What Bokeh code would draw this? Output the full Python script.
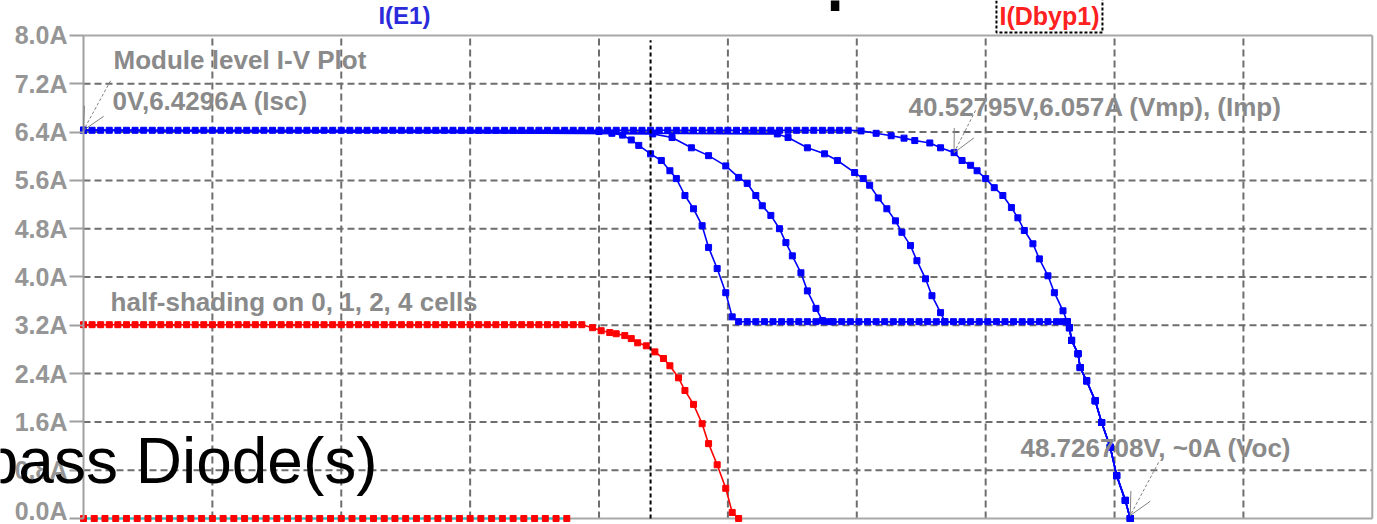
from bokeh.plotting import figure
from bokeh.models import Range1d, FixedTicker, Label, Arrow, OpenHead
from bokeh.embed import file_html
from bokeh.resources import INLINE

# ---------------- data ----------------
I_SC = 6.43      # short-circuit current (A)
I_BYP = 3.26     # plateau while bypass diode conducts (A)
I_RED = 3.21     # half-shaded current (A)

# plot window of the simulator (V, A)
V_MIN, V_MAX = 0.0, 60.0
I_MIN, I_MAX = 0.0, 8.0

# markers on the 6.43 A plateau (unshaded curve)
v_top = [0.0, 0.4, 0.8, 1.2, 1.6, 2.0, 2.4, 2.8, 3.2, 3.6, 4.0, 4.4, 4.8, 5.2, 5.6,
         6.0, 6.4, 6.8, 7.2, 7.6, 8.0, 8.4, 8.8, 9.2, 9.6, 10.0, 10.4, 10.8, 11.2,
         11.6, 12.0, 12.4, 12.8, 13.2, 13.6, 14.0, 14.4, 14.8, 15.2, 15.6, 16.0,
         16.4, 16.8, 17.2, 17.6, 18.0, 18.4, 18.8, 19.2, 19.6, 20.0, 20.4, 20.8,
         21.2, 21.6, 22.0, 22.4, 22.8, 23.2, 23.6, 24.0, 24.4, 24.8, 25.2, 25.6,
         26.0, 26.4, 26.8, 27.2, 27.6, 28.0, 28.4, 28.8, 29.2, 29.6, 30.0, 30.4,
         30.8, 31.2, 31.6, 32.0, 32.4, 32.8, 33.2, 33.6, 34.0, 34.4, 34.8, 35.2, 35.6]

# unshaded knee
knee_D_v = [36.2, 36.9, 37.6, 38.2, 38.7, 39.4, 39.9, 40.53, 40.9, 41.3, 41.6, 42.0,
            42.4, 42.8, 43.2, 43.5, 43.8, 44.2, 44.5, 44.9, 45.2, 45.6]
knee_D_i = [6.42, 6.38, 6.34, 6.30, 6.26, 6.22, 6.14, 6.06, 5.93, 5.85, 5.76, 5.63,
            5.48, 5.35, 5.15, 4.98, 4.77, 4.55, 4.30, 4.02, 3.74, 3.44]

# shared steep descent to Voc
v_tail = [45.9, 46.0, 46.3, 46.4, 46.7, 47.1, 47.4, 47.8, 48.1, 48.5, 48.73]
i_tail = [3.16, 2.95, 2.73, 2.50, 2.28, 1.95, 1.59, 1.18, 0.71, 0.30, 0.0]

# shaded curves (1, 2, 4 cells) knees
knee_A_v = [24.0, 24.6, 25.1, 25.5, 25.85, 26.4, 26.9, 27.3, 27.6, 28.0, 28.4, 28.8,
            29.1, 29.5, 29.9, 30.2, 30.5]
knee_A_i = [6.41, 6.38, 6.35, 6.27, 6.18, 6.04, 5.93, 5.76, 5.63, 5.35, 5.13, 4.85,
            4.49, 4.14, 3.74, 3.34, 3.26]
knee_B_v = [26.5, 27.4, 28.3, 29.1, 29.9, 30.5, 30.9, 31.3, 31.6, 32.0, 32.4, 32.7,
            33.0, 33.4, 33.7, 34.1, 34.4, 34.8]
knee_B_i = [6.37, 6.31, 6.14, 6.01, 5.84, 5.65, 5.55, 5.35, 5.18, 5.02, 4.80, 4.57,
            4.35, 4.07, 3.77, 3.48, 3.28, 3.26]
knee_C_v = [32.3, 32.8, 33.7, 34.5, 35.1, 35.9, 36.3, 36.6, 37.0, 37.4, 37.8, 38.1,
            38.5, 38.8, 39.2, 39.5, 39.9, 40.1]
knee_C_i = [6.37, 6.31, 6.14, 6.04, 5.93, 5.73, 5.63, 5.52, 5.31, 5.13, 4.93, 4.74,
            4.52, 4.27, 3.97, 3.69, 3.41, 3.26]

# markers on the bypass plateau
v_mid = [30.9, 31.3, 31.7, 32.1, 32.5, 32.9, 33.3, 33.7, 34.1, 34.5, 34.9, 35.3, 35.7,
         36.1, 36.5, 36.9, 37.3, 37.7, 38.1, 38.5, 38.9, 39.3, 39.7, 40.1, 40.5, 40.9,
         41.3, 41.7, 42.1, 42.5, 42.9, 43.3, 43.7, 44.1, 44.5, 44.9, 45.3, 45.6, 45.8]

# red half-shading curve
v_red_flat = [0.0, 0.4, 0.8, 1.2, 1.6, 2.0, 2.4, 2.8, 3.2, 3.6, 4.0, 4.4, 4.8, 5.2,
              5.6, 6.0, 6.4, 6.8, 7.2, 7.6, 8.0, 8.4, 8.8, 9.2, 9.6, 10.0, 10.4, 10.8,
              11.2, 11.6, 12.0, 12.4, 12.8, 13.2, 13.6, 14.0, 14.4, 14.8, 15.2, 15.6,
              16.0, 16.4, 16.8, 17.2, 17.6, 18.0, 18.4, 18.8, 19.2, 19.6, 20.0, 20.4,
              20.8, 21.2, 21.6, 22.0, 22.4, 22.8, 23.2]
knee_R_v = [23.7, 24.1, 24.5, 24.8, 25.2, 25.5, 25.8, 26.2, 26.6, 27.0, 27.3, 27.7,
            28.0, 28.4, 28.8, 29.1, 29.5, 29.9, 30.2, 30.5]
knee_R_i = [3.16, 3.11, 3.08, 3.06, 3.03, 2.98, 2.91, 2.86, 2.76, 2.65, 2.53, 2.33,
            2.12, 1.89, 1.57, 1.24, 0.89, 0.50, 0.10, 0.0]

# bypass diode currents lying on 0 A
v_zero = [0.0, 0.5, 1.0, 1.5, 2.0, 2.5, 3.0, 3.5, 4.0, 4.5, 5.0, 5.5, 6.0, 6.5, 7.0,
          7.5, 8.0, 8.5, 9.0, 9.5, 10.0, 10.5, 11.0, 11.5, 12.0, 12.5, 13.0, 13.5,
          14.0, 14.5, 15.0, 15.5, 16.0, 16.5, 17.0, 17.5, 18.0, 18.5, 19.0, 19.5,
          20.0, 20.5, 21.0, 21.5, 22.0, 22.5]

cursor_v = 26.4
y_ticks = [0.0, 0.8, 1.6, 2.4, 3.2, 4.0, 4.8, 5.6, 6.4, 7.2, 8.0]
y_tick_labels = ["0.0A", "0.8A", "1.6A", "2.4A", "3.2A", "4.0A", "4.8A", "5.6A",
                 "6.4A", "7.2A", "8.0A"]
x_grid_v = [6, 12, 18, 24, 30, 36, 42, 48, 54]
y_grid_i = [0.8, 1.6, 2.4, 3.2, 4.0, 4.8, 5.6, 6.4, 7.2]

trace_blue = "I(E1)"
trace_red = "I(Dbyp1)"
note_title = "Module level I-V Plot"
note_isc = "0V,6.4296A (Isc)"
note_vmp = "40.52795V,6.057A (Vmp), (Imp)"
note_shade = "half-shading on 0, 1, 2, 4 cells"
note_voc = "48.726708V, ~0A (Voc)"
slide_text = "Bypass Diode(s)"

# ---------------- figure ----------------
# the frame fills the whole canvas; the y axis is pinned at V = 0
p = figure(width=1377, height=524, output_backend="svg", toolbar_location=None,
           x_range=Range1d(-3.864, 60.242), y_range=Range1d(-0.0994, 8.5797),
           x_axis_location=None, min_border_left=0, min_border_top=0,
           min_border_right=0, min_border_bottom=0,
           background_fill_color="white", border_fill_color="white")
p.outline_line_color = None
p.xgrid.visible = False
p.ygrid.visible = False

ya = p.yaxis[0]
ya.fixed_location = V_MIN
ya.bounds = (I_MIN, I_MAX)
ya.ticker = FixedTicker(ticks=y_ticks)
ya.major_label_overrides = dict(zip(y_ticks, y_tick_labels))
ya.axis_line_color = "#a0a0a0"
ya.axis_line_width = 2
ya.major_tick_line_color = "#a0a0a0"
ya.major_tick_line_width = 2
ya.major_tick_out = 14
ya.major_tick_in = 0
ya.minor_tick_line_color = None
ya.major_label_standoff = 2
ya.major_label_text_font = "Liberation Sans"
ya.major_label_text_font_style = "bold"
ya.major_label_text_font_size = "25px"
ya.major_label_text_color = "#969696"

# dashed grid inside the plot window
GRID = "#6e6e6e"
p.segment(x0=x_grid_v, y0=[I_MIN] * len(x_grid_v), x1=x_grid_v,
          y1=[I_MAX] * len(x_grid_v), line_color=GRID, line_width=2, line_dash="7 4")
p.segment(x0=[V_MIN] * len(y_grid_i), y0=y_grid_i, x1=[V_MAX] * len(y_grid_i),
          y1=y_grid_i, line_color=GRID, line_width=2, line_dash="7 4")
# window border (top, right, bottom)
p.segment(x0=[V_MIN, V_MAX, V_MIN], y0=[I_MAX, I_MIN, I_MIN],
          x1=[V_MAX, V_MAX, V_MAX], y1=[I_MAX, I_MAX, I_MIN],
          line_color="#a8a8a8", line_width=2)

BLUE = "#0000ff"
RED = "#ff0000"
CYAN = "#22c8c8"


def curve(vs, cs, color):
    p.line(vs, cs, line_color=color, line_width=1.6)
    p.scatter(vs, cs, marker="square", size=6, fill_color=color, line_color=color)


# bypass currents along 0 A
p.line(v_zero, [0.0] * len(v_zero), line_color=CYAN, line_width=2)
p.scatter(v_zero, [0.0] * len(v_zero), marker="square", size=6, fill_color=RED,
          line_color=RED)

# red half-shaded curve
curve(v_red_flat + knee_R_v, [I_RED] * len(v_red_flat) + knee_R_i, RED)

# blue curves
curve(v_top + knee_D_v + v_tail, [I_SC] * len(v_top) + knee_D_i + i_tail, BLUE)
curve([0.0] + knee_A_v + v_mid + v_tail,
      [I_SC] + knee_A_i + [I_BYP] * len(v_mid) + i_tail, BLUE)
curve([0.0] + knee_B_v + [v_mid[-1]] + v_tail,
      [I_SC] + knee_B_i + [I_BYP] + i_tail, BLUE)
curve([0.0] + knee_C_v + [v_mid[-1]] + v_tail,
      [I_SC] + knee_C_i + [I_BYP] + i_tail, BLUE)

# cursor
p.segment(x0=[cursor_v], y0=[I_MIN], x1=[cursor_v], y1=[7.92], line_color="black",
          line_width=2, line_dash="4 3")

GRAY = "#8a8a8a"
FONT = "Liberation Sans"


def note(x, y, text, **kw):
    opts = dict(text_font=FONT, text_font_style="bold", text_font_size="26px",
                text_color=GRAY, text_align="left", text_baseline="middle")
    opts.update(kw)
    p.add_layout(Label(x=x, y=y, text=text, **opts))


note(1.40, 7.59, note_title)
note(1.35, 6.91, note_isc)
note(38.41, 6.82, note_vmp)
note(1.26, 3.58, note_shade)
note(43.62, 1.16, note_voc)

note(14.94, 8.33, trace_blue, text_color="#2b2bdc", text_align="center",
     text_font_size="24px")
p.add_layout(Label(x=44.97, y=8.33, text=trace_red, text_font=FONT,
                   text_font_style="bold", text_font_size="25px", text_color="#ff2020",
                   text_align="center", text_baseline="middle",
                   border_line_color="black", border_line_width=2,
                   border_line_dash="3 2", padding=3))

# slide text overlapping the chart
p.add_layout(Label(x=13.69, y=0.96, text=slide_text, text_font=FONT,
                   text_font_size="64px", text_color="black", text_align="right",
                   text_baseline="alphabetic"))
p.add_layout(Label(x=34.59, y=8.975, text="p", text_font=FONT, text_font_style="bold",
                   text_font_size="62px", text_color="black", text_align="left",
                   text_baseline="alphabetic"))

# annotation arrows
for (x0, y0, x1, y1) in [(1.26, 7.25, 0.0, 6.43), (41.53, 6.76, 40.53, 6.06),
                         (50.05, 0.93, 48.73, 0.05)]:
    p.add_layout(Arrow(x_start=x0, y_start=y0, x_end=x1, y_end=y1,
                       line_color="#808080", line_width=1, line_dash="3 2",
                       end=OpenHead(size=22, line_color="#808080", line_width=1)))

open("out.html", "w").write(file_html(p, INLINE))
